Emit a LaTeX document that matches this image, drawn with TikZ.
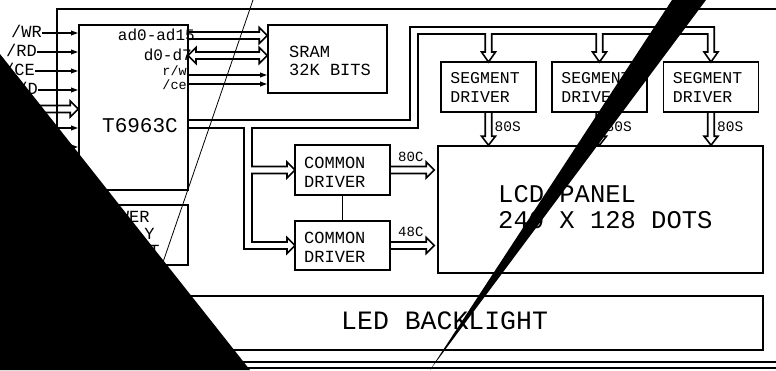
\documentclass[tikz,border=0pt]{standalone}
\usepackage{fontspec}
\newfontfamily\cad{Liberation Mono}
\usetikzlibrary{calc,arrows.meta}
\tikzset{
  ln/.style={line width=1.6pt, line join=miter},
  box/.style={draw, line width=1.6pt, inner sep=0pt},
  txt/.style={inner sep=0pt, font=\cad},
  sarrow/.style={line width=1.6pt, -{Triangle[length=7pt,width=4.5pt]}},
}
\newcommand\fsz[2]{\fontsize{#1}{#2}\selectfont}
% horizontal hollow bus arrow, start #1, tip x of #2
\newcommand\busR[2]{\draw[ln] let \p1=(#1), \p2=(#2) in
  (\x1,\y1+3.5pt) -- (\x2-8pt,\y1+3.5pt) -- (\x2-8pt,\y1+8pt) -- (\x2,\y1)
  -- (\x2-8pt,\y1-8pt) -- (\x2-8pt,\y1-3.5pt) -- (\x1,\y1-3.5pt);}
% two-headed hollow bus arrow
\newcommand\busLR[2]{\draw[ln] let \p1=(#1), \p2=(#2) in
  (\x1+8pt,\y1+3.5pt) -- (\x2-8pt,\y1+3.5pt) -- (\x2-8pt,\y1+8pt) -- (\x2,\y1)
  -- (\x2-8pt,\y1-8pt) -- (\x2-8pt,\y1-3.5pt) -- (\x1+8pt,\y1-3.5pt)
  -- (\x1+8pt,\y1-8pt) -- (\x1,\y1) -- (\x1+8pt,\y1+8pt) -- cycle;}
% vertical hollow bus arrow down, x of #1, tip y of #2
\newcommand\busD[2]{\draw[ln] let \p1=(#1), \p2=(#2) in
  (\x1-3.25pt,\y1) -- (\x1-3.25pt,\y2+9pt) -- (\x1-7pt,\y2+9pt) -- (\x1,\y2)
  -- (\x1+7pt,\y2+9pt) -- (\x1+3.25pt,\y2+9pt) -- (\x1+3.25pt,\y1);}
\begin{document}
\begin{tikzpicture}[x=1pt,y=-1pt]
\useasboundingbox (0,0) rectangle (776,370);
\fill[white] (0,0) rectangle (776,370);
\begin{scope}
\clip (0,0) rectangle (776,370);
% frame
\draw[ln] (790,9) -- (57,9) -- (57,362) -- (790,362);
\draw[ln] (-5,368) -- (790,368);

% boxes
\node[box, minimum width=109pt, minimum height=165pt] (t6963) at (133.5,107.5) {};
\node[txt, font={\cad\fsz{21}{21}}] (t6963txt) at (140,125.5) {T6963C};

\node[box, minimum width=119pt, minimum height=68pt] (sram) at (327.5,59) {};
\node[txt, align=left, anchor=west, font={\cad\fsz{17}{18}}] (sramtxt) at (289,61) {SRAM\\32K BITS};

\foreach \s/\xx in {sd1/488.5, sd2/599.5, sd3/711}{
  \node[box, minimum width=95pt, minimum height=50pt] (\s) at (\xx,87) {};
  \node[txt, align=left, anchor=west, font={\cad\fsz{16.5}{18.5}}] (\s-t) at ($(\s.west)+(10,0.3)$) {SEGMENT\\DRIVER};
}

\node[box, minimum width=325pt, minimum height=127pt] (lcd) at (600.5,209.5) {};
\node[txt, align=left, anchor=west, font={\cad\fsz{25.5}{26.5}}] (lcdtxt) at (498,207) {LCD PANEL\\240 X 128 DOTS};

\node[box, minimum width=95pt, minimum height=50pt] (cd1) at (342.5,170) {};
\node[txt, align=left, anchor=west, font={\cad\fsz{17}{19}}] (cd1txt) at (304,172.5) {COMMON\\DRIVER};
\node[box, minimum width=95pt, minimum height=49pt] (cd2) at (342.5,245.5) {};
\node[txt, align=left, anchor=west, font={\cad\fsz{17}{19}}] (cd2txt) at (304,247) {COMMON\\DRIVER};
\draw[ln] (cd1.south) -- (cd2.north);

\node[box, minimum width=109pt, minimum height=60pt] (pwr) at (133.5,235) {};
\node[txt, align=center, font={\cad\fsz{17}{17}}] (pwrtxt) at (124,234) {POWER\\SUPPLY\\CIRCUIT};

\node[box, minimum width=684pt, minimum height=54pt] (led) at (421,323) {};
\node[txt, anchor=west, font={\cad\fsz{26.5}{26.5}}] (ledtxt) at (341,320.5) {LED BACKLIGHT};

% left inputs
\coordinate (iwr) at (42,33);
\coordinate (ird) at (37,52);
\coordinate (ice) at (35,71);
\coordinate (icd) at (38,90);
\coordinate (ibus) at (20,109);
\coordinate (i6) at (20,128);
\coordinate (i7) at (20,147);
\node[txt, anchor=east, font={\cad\fsz{17}{17}}] (lwr) at ($(iwr)+(0,-1.5)$) {/WR};
\node[txt, anchor=east, font={\cad\fsz{17}{17}}] (lrd) at ($(ird)+(0,-1.5)$) {/RD};
\node[txt, anchor=east, font={\cad\fsz{17}{17}}] (lce) at ($(ice)+(0,-1.5)$) {/CE};
\node[txt, anchor=east, font={\cad\fsz{17}{17}}] (lcd2) at ($(icd)+(0,-1.5)$) {C/D};
\foreach \c in {iwr,ird,ice,icd,i6,i7}{
  \draw[sarrow] (\c) -- (\c -| t6963.west);
}
\busR{ibus}{t6963.west}

% T6963C to SRAM
\coordinate (oad) at (188,35.5);
\coordinate (od) at (188,55.5);
\coordinate (orw) at (188,75);
\coordinate (oce) at (188,84);
\node[txt, anchor=east, font={\cad\fsz{16}{16}}] (lad) at (195,35) {ad0-ad15};
\node[txt, anchor=east, font={\cad\fsz{16}{16}}] (ld) at (192,55) {d0-d7};
\node[txt, anchor=base east, font={\cad\fsz{13.5}{13.5}}] (lrw) at (187,75.5) {r/w};
\node[txt, anchor=base east, font={\cad\fsz{13.5}{13.5}}] (lcs) at (187,89.5) {/ce};
\busR{oad}{sram.west}
\busLR{od}{sram.west}
\draw[sarrow] (orw) -- (orw -| sram.west);
\draw[sarrow] (oce) -- (oce -| sram.west);

% control bus to segment and common drivers
\draw[ln] (188,120) -- (410,120) -- (410,27) -- (714.25,27) -- (714.25,52) -- (718,52) -- (711,62)
  -- (704,52) -- (707.75,52) -- (707.75,34) -- (602.75,34) -- (602.75,52) -- (606.5,52)
  -- (599.5,62) -- (592.5,52) -- (596.25,52) -- (596.25,34) -- (491.75,34) -- (491.75,52)
  -- (495.5,52) -- (488.5,62) -- (481.5,52) -- (485.25,52) -- (485.25,34) -- (418,34)
  -- (418,128) -- (252,128) -- (252,166.5) -- (287,166.5) -- (287,162) -- (295,170)
  -- (287,178) -- (287,173.5) -- (252,173.5) -- (252,242) -- (287,242) -- (287,237.5)
  -- (295,245.5) -- (287,253.5) -- (287,249) -- (244,249) -- (244,128) -- (188,128);

% segment outputs
\busD{sd1.south}{lcd.north}
\busD{sd2.south}{lcd.north}
\busD{sd3.south}{lcd.north}
\foreach \s in {sd1,sd2,sd3}{
  \node[txt, anchor=west, font={\cad\fsz{14.5}{14.5}}] (\s-o) at ($(\s.south)+(6,14)$) {80S};
}
% common outputs
\coordinate (lcdin1) at ($(lcd.west)+(-3,0)$);
\busR{cd1.east}{lcdin1}
\busR{cd2.east}{lcdin1}
\node[txt, anchor=west, font={\cad\fsz{14}{14}}] (o80c) at (398,157) {80C};
\node[txt, anchor=west, font={\cad\fsz{14}{14}}] (o48c) at (398,231.5) {48C};

% overlays
\draw[line width=0.8pt] (253,0) -- (150,300);
\fill[black] (0,54) -- (250,370) -- (0,370) -- cycle;
\fill[black] (672,0) -- (706,0) -- (430,370) -- cycle;
\end{scope}
\end{tikzpicture}
\end{document}
